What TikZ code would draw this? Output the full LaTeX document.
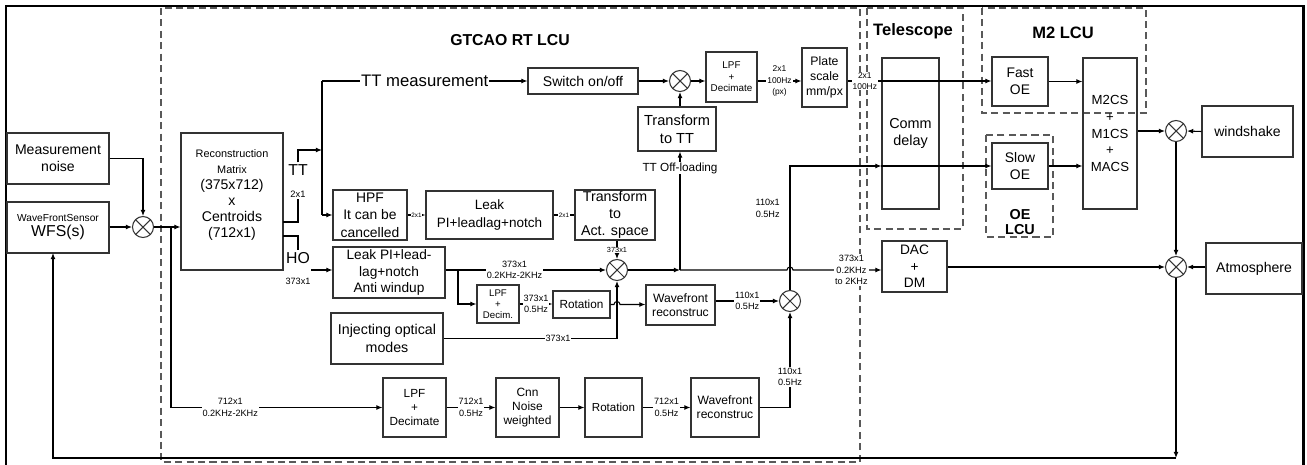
\documentclass[tikz,border=0pt]{standalone}
\usepackage{fontspec}
\setmainfont{Liberation Sans}
\usepackage{tikz}
\usetikzlibrary{arrows.meta,positioning,calc}

\newcommand{\fs}[2]{\fontsize{#1}{#2}\selectfont}

\begin{document}
\begin{tikzpicture}[x=0.02cm, y=-0.02cm, line width=0.6pt,
        >={Latex[length=3.5pt,width=2.8pt]},
        block/.style={rectangle, draw=black!80, inner sep=0pt, align=center, font=\fs{8}{9.6}},
        span/.style args={#1/#2/#3/#4}{at={({(#1+#3)/2},{(#2+#4)/2})},
            minimum width={(#3-#1)*0.02cm}, minimum height={(#4-#2)*0.02cm}},
        sumnode/.style={circle, draw=black!80, minimum size=0.42cm, inner sep=0pt,
            path picture={\draw[black!80] (path picture bounding box.north west) -- (path picture bounding box.south east)
                (path picture bounding box.north east) -- (path picture bounding box.south west);}},
        region/.style={draw=black!65, dash pattern=on 4pt off 2.5pt, line width=0.8pt},
        lbl/.style={fill=white, inner sep=0.5pt, align=center, font=\fs{5.2}{6.5}},
        tinylbl/.style={fill=white, inner sep=0.3pt, font=\fs{3.6}{4}},
        title/.style={font=\fs{9}{10.5}\bfseries}]

    \fill[white] (0,0) rectangle (1307,464);
    \useasboundingbox (0,0) rectangle (1307,464);

    % frame and sub-system boundaries
    \draw[line width=1.7pt] (6,470) -- (6,6) -- (1303,6) -- (1303,470);
    \draw[region] (161,8) rectangle (860,462);
    \draw[region] (867,8) rectangle (963,229);
    \draw[region] (982,8) rectangle (1146,113);
    \draw[region] (986,135) rectangle (1053,237);

    \node[title] (rttitle) at (510,40) {GTCAO RT LCU};
    \node[title, font=\fs{9.4}{11}\bfseries] (teltitle) at (913,31) {Telescope};
    \node[title, font=\fs{9.4}{11}\bfseries] (m2title) at (1063,33) {M2 LCU};
    \node[title, align=center, font=\fs{8.2}{8.6}\bfseries] (oetitle) at (1020,222) {OE\\LCU};

    % sensor side
    \node[block, span=7/133/109/184] (noise) {Measurement\\noise};
    \node[block, span=7/202/109/253, font=\fs{9}{8.6}] (wfs) {\fs{5.8}{8.6}WaveFrontSensor\\\fs{9}{8.6}WFS(s)};
    \node[sumnode] (sum1) at (143,227) {};
    \node[block, span=181/133/283/270, font=\fs{8}{9.1}] (recon)
        {\fs{6.2}{9.1}Reconstruction\\\fs{6.2}{9.1}Matrix\\\fs{8}{9.1}(375x712)\\\fs{8}{9.1}x\\\fs{8}{9.1}Centroids\\\fs{8}{9.1}(712x1)\\\mbox{}};
    \node[font=\fs{9}{10}, inner sep=1pt] (ttlbl) at (298,170) {TT};
    \node[lbl, font=\fs{5.3}{6}] (ttsize) at (298,194) {2x1};
    \node[font=\fs{9}{10}, inner sep=1pt] (holbl) at (298,258) {HO};
    \node[lbl] (hosize) at (298,281) {373x1};

    % real time LCU
    \node[block, span=528/68/638/94] (switch) {Switch on/off};
    \node[block, span=333/190/407/240, font=\fs{7.9}{9.9}] (hpf) {HPF\\It can be\\cancelled};
    \node[block, span=426/191/553/239, font=\fs{7.7}{9.8}] (leak) {Leak\\PI+leadlag+notch};
    \node[block, span=575/190/655/240, font=\fs{8.1}{9.6}] (tract) {Transform\\to\\Act. space};
    \node[block, span=333/247/445/298, font=\fs{7.8}{9.6}] (leakaw) {Leak PI+lead-\\lag+notch\\Anti windup};
    \node[block, span=331/313/443/364, font=\fs{8.1}{10}] (inject) {Injecting optical\\modes};
    \node[block, span=477/285/519/323, font=\fs{5.5}{6.2}] (lpfd) {LPF\\+\\Decim.};
    \node[block, span=553/291/610/318, font=\fs{6.7}{8}] (rot1) {Rotation};
    \node[block, span=646/285/715/325, font=\fs{6.9}{8}] (wf1) {Wavefront\\reconstruc};
    \node[sumnode] (sum2) at (617,270) {};
    \node[sumnode] (sum3) at (680,81) {};
    \node[block, span=638/107/716/151, font=\fs{8.3}{10.3}] (trtt) {Transform\\to TT};
    \node[block, span=706/52/757/102, font=\fs{5.6}{6.5}] (lpft) {LPF\\+\\Decimate};
    \node[block, span=802/48/847/107, font=\fs{7}{8.5}] (plate) {Plate\\scale\\mm/px};
    \node[sumnode] (sum4) at (790,301) {};
    \node[block, span=383/378/446/437, font=\fs{6.7}{8.2}] (lpfb) {LPF\\+\\Decimate};
    \node[block, span=496/378/559/437, font=\fs{6.8}{8.2}] (cnn) {Cnn\\Noise\\weighted};
    \node[block, span=585/378/642/437, font=\fs{6.6}{8}] (rot2) {Rotation};
    \node[block, span=691/378/759/437, font=\fs{6.9}{8}] (wf2) {Wavefront\\reconstruc};

    % telescope, M2 and OE
    \node[block, span=882/58/939/209, font=\fs{8.2}{10}] (comm) {Comm\\delay};
    \node[block, span=882/241/947/292, font=\fs{7.8}{9.5}] (dacdm) {DAC\\+\\DM};
    \node[block, span=992/57/1048/106, font=\fs{7.9}{9.6}] (fastoe) {Fast\\OE};
    \node[block, span=992/143/1048/189, font=\fs{7.9}{9.6}] (slowoe) {Slow\\OE};
    \node[block, span=1083/58/1137/209, font=\fs{7.5}{9.5}] (mcs) {M2CS\\+\\M1CS\\+\\MACS};
    \node[sumnode] (sum5) at (1176,131) {};
    \node[block, span=1202/106/1293/157] (wind) {windshake};
    \node[sumnode] (sum6) at (1176,267) {};
    \node[block, span=1206/243/1302/294] (atm) {Atmosphere};

    \coordinate (ttout) at (283,222);
    \coordinate (ttin) at (322,150);
    \coordinate (bustop) at (322,81);
    \coordinate (busbot) at (322,215);
    \coordinate (hoout) at (283,236);
    \coordinate (hoin) at (311,270);
    \coordinate (lowbr) at (171,227);
    \coordinate (lpfbr) at (458,270);
    \coordinate (offload) at (680,270);
    \coordinate (fbcorner) at (1176,458);
    \coordinate (fbend) at (53,253);

    % connectors
    \draw[->] (noise.east) -| (sum1.north);
    \draw[->] (wfs.east |- sum1) -- (sum1.west);
    \draw[->] (sum1.east) -- (recon.west |- sum1);
    \draw[->] (lowbr) |- node[lbl, pos=0.64] {712x1\\0.2KHz-2KHz} (lpfb.west);
    \draw (ttout) -| (ttsize.south);
    \draw[->] (ttlbl.north) |- (ttin);
    \draw (busbot) -- (bustop);
    \draw[->] (bustop) -- node[fill=white, inner sep=0.5pt, font=\fs{9.5}{11}] {TT measurement} (switch.west);
    \draw[->] (busbot) -- (hpf.west);
    \draw (hoout) -| (holbl.north);
    \draw[->] (hoin) -- (hoin -| leakaw.west);
    \draw[->] (hpf.east) -- node[tinylbl] {2x1} (hpf.east -| leak.west);
    \draw (leak.east) -- node[tinylbl] {2x1} (leak.east -| tract.west);
    \draw[->] (tract.south -| sum2) -- node[tinylbl, font=\fs{4.2}{5}] {373x1} (sum2.north);
    \draw[->] (leakaw.east |- sum2) -- node[lbl, pos=0.43] {373x1\\0.2KHz-2KHz} (sum2.west);
    \draw[->] (lpfbr) |- (lpfd.west);
    \draw[->] (lpfd.east) -- node[lbl] {373x1\\0.5Hz} (lpfd.east -| rot1.west);
    \draw[->] (rot1.east) -- ($(rot1.east -| sum2)+(-3,0)$) arc[start angle=180, end angle=0, radius=0.06cm]
        -- (rot1.east -| wf1.west);
    \draw[->] (inject.east) -| node[lbl, pos=0.33] {373x1} (sum2.south);
    \draw[->] (sum2.east) -- (offload);
    \draw[->] (offload) -- node[fill=white, inner sep=0.5pt, font=\fs{6.7}{8}, pos=0.86] {TT Off-loading} (offload |- trtt.south);
    \draw[->] (offload) -- ($(offload -| sum4)+(-3,0)$) arc[start angle=180, end angle=0, radius=0.06cm]
        -- node[lbl, pos=0.66] {373x1\\0.2KHz\\to 2KHz} (offload -| dacdm.west);
    \draw[->] (sum3 |- trtt.north) -- (sum3.south);
    \draw[->] (switch.east) -- (sum3.west);
    \draw[->] (sum3.east) -- (sum3.east -| lpft.west);
    \draw[->] (lpft.east |- sum3) -- node[lbl, font=\fs{4.8}{6.4}] {2x1\\100Hz\\(px)} (plate.west |- sum3);
    \draw[->] (plate.east |- sum3) -- node[lbl, font=\fs{4.8}{6.2}, pos=0.12] {2x1\\100Hz} (fastoe.west |- sum3);
    \draw[->] (sum4.north) |- node[lbl, left=5pt, pos=0.33] {110x1\\0.5Hz} (comm.west |- slowoe);
    \draw[->] (comm.west |- slowoe) -- (slowoe.west);
    \draw[->] (wf1.east |- sum4) -- node[lbl] {110x1\\0.5Hz} (sum4.west);
    \draw[->] (wf2.east) -| node[lbl, pos=0.66] {110x1\\0.5Hz} (sum4.south);
    \draw[->] (lpfb.east) -- node[lbl] {712x1\\0.5Hz} (cnn.west);
    \draw[->] (cnn.east) -- (rot2.west);
    \draw[->] (rot2.east) -- node[lbl] {712x1\\0.5Hz} (wf2.west);
    \draw[->] (fastoe.east) -- (fastoe.east -| mcs.west);
    \draw[->] (slowoe.east) -- (slowoe.east -| mcs.west);
    \draw[->] (mcs.east |- sum5) -- (sum5.west);
    \draw[->] (wind.west) -- (sum5.east);
    \draw[->] (sum5.south) -- (sum6.north);
    \draw[->] (dacdm.east |- sum6) -- (sum6.west);
    \draw[->] (atm.west |- sum6) -- (sum6.east);
    \draw[->] (sum6.south) -- (fbcorner);
    \draw[->] (fbcorner) -| (fbend);

\end{tikzpicture}
\end{document}
